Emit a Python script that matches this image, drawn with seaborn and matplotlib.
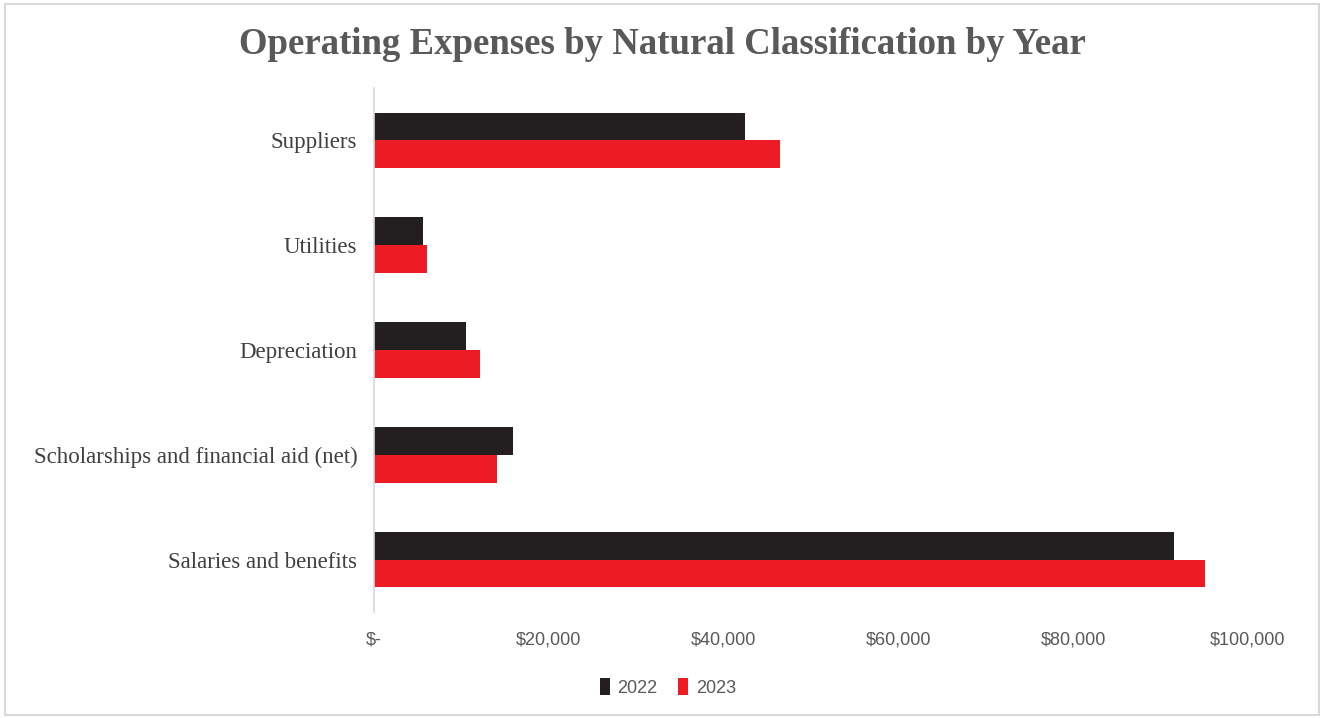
import pandas as pd
import matplotlib.pyplot as plt
import matplotlib.ticker as mticker
from matplotlib.patches import Rectangle
import seaborn as sns

# Data (dollars)
categories = ["Suppliers", "Utilities", "Depreciation",
              "Scholarships and financial aid (net)", "Salaries and benefits"]
years = ["2022", "2023"]
values_2022 = [42400, 5600, 10500, 15900, 91500]
values_2023 = [46500, 6100, 12100, 14100, 95100]
x_ticks = [0, 20000, 40000, 60000, 80000, 100000]

df = pd.DataFrame({
    "Category": categories * 2,
    "Year": [years[0]] * len(categories) + [years[1]] * len(categories),
    "Value": values_2022 + values_2023,
})

sns.set_style("white")
plt.rcParams["font.family"] = ["Liberation Sans", "DejaVu Sans"]

fig = plt.figure(figsize=(13.24, 7.18), dpi=100)
ax = fig.add_axes([0.2825, 0.1476, 0.66, 0.7298])

sns.barplot(data=df, x="Value", y="Category", hue="Year", order=categories,
            hue_order=years, palette=["#231F20", "#ED1C24"], width=0.53,
            orient="h", ax=ax, saturation=1, linewidth=0)

ax.set_xlim(0, 100000)
ax.set_ylim(4.5, -0.5)
ax.set_xticks(x_ticks)
ax.xaxis.set_major_formatter(mticker.FuncFormatter(
    lambda v, p: "$-" if v == 0 else f"${v:,.0f}"))
ax.set_xlabel("")
ax.set_ylabel("")
ax.tick_params(axis="x", length=0, pad=14, labelsize=13, labelcolor="#595959")
ax.tick_params(axis="y", length=0, pad=12, labelsize=16.5, labelcolor="#404040")
for lab in ax.get_yticklabels():
    lab.set_fontfamily("Liberation Serif")

for side in ["top", "right", "bottom"]:
    ax.spines[side].set_visible(False)
ax.spines["left"].set_color("#D9D9D9")
ax.spines["left"].set_linewidth(1.2)

ax.legend(loc="upper center", bbox_to_anchor=(0.336, -0.095), ncol=2, frameon=False,
          fontsize=13, labelcolor="#595959", handlelength=0.6, handleheight=1.1,
          handletextpad=0.4, columnspacing=1.1)

fig.suptitle("Operating Expenses by Natural Classification by Year",
             x=0.5, y=0.962, fontsize=26.5, fontweight="bold", color="#595959",
             family="Liberation Serif")

# light border around the chart area
fig.patches.append(Rectangle((0.004, 0.004), 0.992, 0.99, transform=fig.transFigure,
                             fill=False, edgecolor="#D9D9D9", linewidth=1.5))

fig.savefig("out.png", dpi=100)
